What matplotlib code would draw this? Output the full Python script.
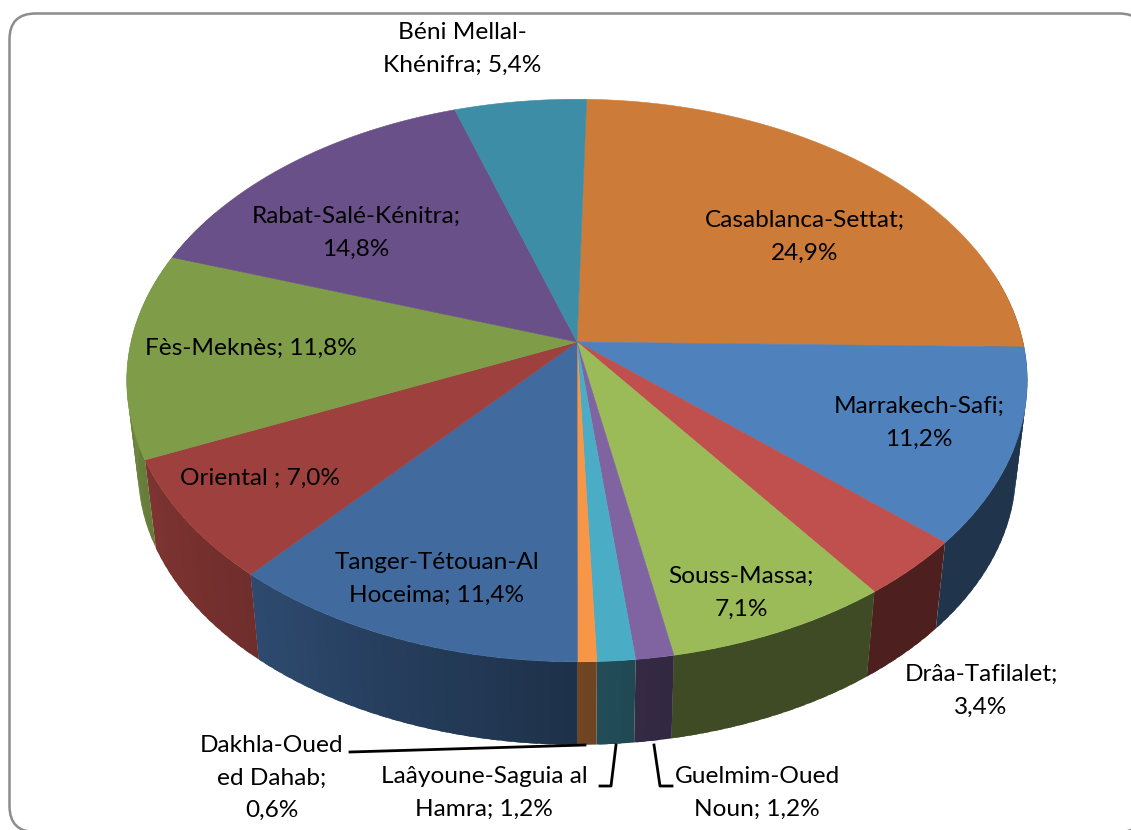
import matplotlib
matplotlib.use("Agg")
import matplotlib.pyplot as plt
from matplotlib.patches import FancyBboxPatch
import numpy as np

# clockwise from the top of the pie
regions = ["Casablanca-Settat", "Marrakech-Safi", "Drâa-Tafilalet", "Souss-Massa",
           "Guelmim-Oued Noun", "Laâyoune-Saguia al Hamra", "Dakhla-Oued ed Dahab",
           "Tanger-Tétouan-Al Hoceima", "Oriental", "Fès-Meknès",
           "Rabat-Salé-Kénitra", "Béni Mellal-Khénifra"]
shares = [24.9, 11.2, 3.4, 7.1, 1.2, 1.2, 0.6, 11.4, 7.0, 11.8, 14.8, 5.4]
colors = ["#CD7B38", "#4F81BD", "#C0504D", "#9BBB59", "#8064A2", "#4BACC6",
          "#F79646", "#416A9F", "#9E413E", "#7F9C48", "#6A5088", "#3C8DA5"]
labels = ["Casablanca-Settat;\n24,9%", "Marrakech-Safi;\n11,2%", "Drâa-Tafilalet;\n3,4%",
          "Souss-Massa;\n7,1%", "Guelmim-Oued\nNoun; 1,2%", "Laâyoune-Saguia al\nHamra; 1,2%",
          "Dakhla-Oued\ned Dahab;\n0,6%", "Tanger-Tétouan-Al\nHoceima; 11,4%",
          "Oriental ; 7,0%", "Fès-Meknès; 11,8%", "Rabat-Salé-Kénitra;\n14,8%",
          "Béni Mellal-\nKhénifra; 5,4%"]
label_pos = [(805, 237), (919, 423), (981, 691), (741, 593), (757, 793), (484, 793),
             (272, 778), (437, 579), (260, 478), (251, 348), (356, 233), (462, 49)]

# pie projection, in pixels
cx, cy = 577, 342
a, b, k = 446, 276, 0.137
start = 1.4
drop, shrink = 91, 0.975


def project(phi, bottom=False):
    t = np.radians(phi)
    u, v = np.sin(t), np.cos(t)
    w = 1 + k * v
    x, y = a * u / w, -b * v / w
    if bottom:
        return cx + shrink * x, cy + drop + shrink * y
    return cx + x, cy + y


def wall_shade(phi):
    return np.interp(phi, [100, 170, 180, 221, 246, 270], [0.4, 0.4, 0.46, 0.7, 0.8, 0.88])


fig = plt.figure(figsize=(11.31, 8.30), dpi=100)
ax = fig.add_axes([0, 0, 1, 1])
ax.set_xlim(0, 1131)
ax.set_ylim(830, 0)
ax.axis("off")
plt.rcParams["font.family"] = ["Lato", "DejaVu Sans"]

frame = FancyBboxPatch((34, 38), 1086.5, 769.5, boxstyle="round,pad=24.5,rounding_size=26",
                       fc="white", ec="#8c8c8c", lw=1.8, zorder=0)
ax.add_patch(frame)

edges = start + np.cumsum([0] + shares) * 3.6

# side walls, each one a run of overlapping bands so no seams show
for i in range(len(shares)):
    lo, hi = max(edges[i], 75), min(edges[i + 1], 300)
    if hi <= lo:
        continue
    base = np.array(matplotlib.colors.to_rgb(colors[i]))
    for p0 in np.arange(lo, hi, 1.5):
        p1 = min(p0 + 2.5, hi)
        arc = np.linspace(p0, p1, 4)
        x0, y0 = project(arc)
        x1, y1 = project(arc[::-1], True)
        c = base * wall_shade(p0 + 0.75)
        ax.fill(np.r_[x0, x1], np.r_[y0, y1], color=c, lw=0, zorder=1)

# top of the pie
for i in range(len(shares)):
    phi = np.linspace(edges[i], edges[i + 1], 60)
    x, y = project(phi)
    ax.fill(np.r_[cx, x], np.r_[cy, y], color=colors[i], lw=0.4, zorder=2)

for lab, (tx, ty) in zip(labels, label_pos):
    ax.text(tx, ty, lab, ha="center", va="center", fontsize=17.6, color="black",
            linespacing=1.68, zorder=5)

# leader lines for the small slices
ax.plot([350, 585], [752, 745], color="black", lw=2, zorder=4)
ax.plot([600, 611, 616], [786, 786, 745], color="black", lw=2, zorder=4)
ax.plot([654, 660, 672], [745, 786, 786], color="black", lw=2, zorder=4)

fig.savefig("out.png", dpi=100)
